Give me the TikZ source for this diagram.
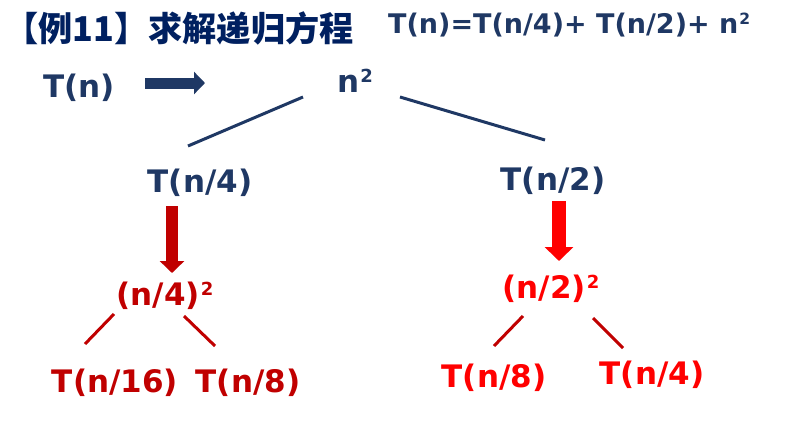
\documentclass[tikz,border=0pt]{standalone}
\usepackage{fontspec}
\setmainfont{DejaVu Sans}
\newfontfamily\cjk{Noto Sans CJK SC}
\usetikzlibrary{arrows.meta}
\definecolor{navy}{HTML}{1F3864}
\definecolor{titleblue}{HTML}{002060}
\definecolor{dred}{HTML}{C00000}
\definecolor{bred}{HTML}{FF0000}
\newcommand{\mysupbig}{\kern1pt\raisebox{10pt}{\bfseries\fontsize{18}{18}\selectfont 2}}
\newcommand{\mysupsmall}{\kern1pt\raisebox{8.5pt}{\bfseries\fontsize{15.5}{15.5}\selectfont 2}}
\tikzset{
  lbl/.style={font=\bfseries\fontsize{31}{31}\selectfont, inner sep=0pt, anchor=base},
  navylbl/.style={lbl, text=navy},
  dredlbl/.style={lbl, text=dred},
  bredlbl/.style={lbl, text=bred},
  branch/.style={line width=3pt},
  blockarrow/.style={-{Triangle[width=#1*2pt,length=#1pt]}, line width=#1pt},
}
\begin{document}
\begin{tikzpicture}[x=1pt,y=-1pt]
\useasboundingbox (0,0) rectangle (786,426);
% title and equation
\node[inner sep=0pt, anchor=base west, text=titleblue, font=\cjk\bfseries\fontsize{34.2}{34.2}\selectfont] (title) at (4,41) {【例11】求解递归方程};
\node[inner sep=0pt, anchor=base west, text=navy, font=\bfseries\fontsize{27}{27}\selectfont] (eq) at (388,33) {T(n)=T(n/4)+ T(n/2)+ n\mysupsmall};
% tree nodes
\node[navylbl] (tn) at (79,97) {T(n)};
\node[navylbl] (n2) at (355,92) {n\mysupbig};
\node[navylbl] (tn4) at (200,192) {T(n/4)};
\node[navylbl] (tn2) at (553,190) {T(n/2)};
\node[dredlbl] (q4) at (165,305) {(n/4)\mysupbig};
\node[bredlbl] (q2) at (551,298) {(n/2)\mysupbig};
\node[dredlbl] (a16) at (115,392) {T(n/16)};
\node[dredlbl] (a8) at (248,392) {T(n/8)};
\node[bredlbl] (b8) at (494,387) {T(n/8)};
\node[bredlbl] (b4) at (652,384) {T(n/4)};
% connector end points
\coordinate (ar0s) at (145,83);
\coordinate (ar0e) at (205,83);
\coordinate (arLs) at (172,206);
\coordinate (arLe) at (172,273);
\coordinate (arRs) at (559,201);
\coordinate (arRe) at (559,261);
\coordinate (l1a) at (303,97);  \coordinate (l1b) at (188,146);
\coordinate (l2a) at (400,97);  \coordinate (l2b) at (545,140);
\coordinate (l3a) at (114,314); \coordinate (l3b) at (85,344);
\coordinate (l4a) at (184,316); \coordinate (l4b) at (215,346);
\coordinate (l5a) at (523,316); \coordinate (l5b) at (494,346);
\coordinate (l6a) at (593,318); \coordinate (l6b) at (623,348);
% arrows
\draw[navy, blockarrow=11] (ar0s) -- (ar0e);
\draw[dred, blockarrow=12] (arLs) -- (arLe);
\draw[bred, blockarrow=14] (arRs) -- (arRe);
% branches
\draw[navy, branch] (l1a) -- (l1b);
\draw[navy, branch] (l2a) -- (l2b);
\draw[dred, branch] (l3a) -- (l3b);
\draw[dred, branch] (l4a) -- (l4b);
\draw[dred, branch] (l5a) -- (l5b);
\draw[dred, branch] (l6a) -- (l6b);
\end{tikzpicture}
\end{document}
